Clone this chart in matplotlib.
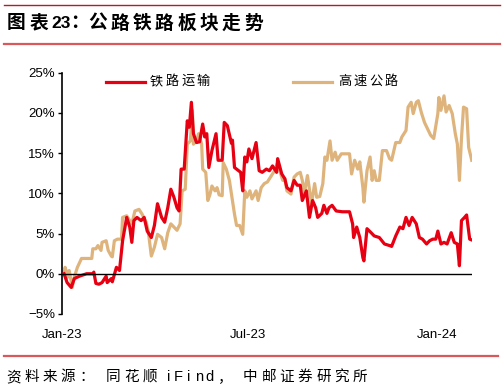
import matplotlib.pyplot as plt
import matplotlib.dates as mdates
from matplotlib.lines import Line2D
import pandas as pd

plt.rcParams["font.family"] = ["Liberation Sans", "Noto Sans CJK SC", "DejaVu Sans"]

START = pd.Timestamp("2023-01-01")

# 铁路运输: days since 2023-01-01, cumulative change (%)
rail_days = [2, 5, 9, 12, 17, 24, 30, 31, 33, 36, 39, 43, 44, 48, 49, 53, 56, 58, 59,
             63, 66, 68, 70, 73, 77, 80, 83, 87, 90, 93, 97, 100, 103, 106, 109, 112,
             114, 116, 119, 122, 124, 126, 128, 131, 134, 137, 139, 141, 143, 146, 150,
             152, 156, 158, 161, 165, 166, 168, 174, 176, 178, 180, 182, 185, 189, 192,
             195, 199, 202, 205, 209, 210, 214, 217, 219, 223, 226, 229, 232, 234, 238,
             241, 244, 247, 249, 253, 255, 258, 260, 263, 267, 273, 280, 283, 284, 287,
             290, 293, 294, 297, 301, 304, 309, 314, 319, 321, 325, 329, 332, 335, 338,
             341, 345, 348, 351, 355, 358, 361, 364, 366, 369, 372, 375, 379, 382, 385,
             387, 389, 392, 394, 397, 399]
rail_vals = [0.0, -1.1, -1.7, -0.6, -0.3, 0.0, 0.0, 0.2, -1.2, -1.3, -1.1, -0.3, -1.1,
             -0.6, -1.0, 0.8, 0.4, 2.9, 4.1, 7.0, 5.8, 3.9, 6.6, 7.0, 6.6, 7.0, 5.3, 4.5,
             6.0, 8.7, 7.0, 6.4, 8.2, 10.5, 9.5, 8.2, 7.8, 13.0, 13.0, 19.0, 18.2, 21.3,
             17.4, 16.3, 16.4, 18.6, 17.0, 17.4, 13.2, 15.3, 17.4, 14.1, 14.1, 18.8, 18.4,
             16.2, 16.6, 13.2, 12.6, 10.3, 14.5, 13.9, 15.5, 14.3, 16.3, 12.8, 12.6, 13.0,
             12.8, 13.4, 12.6, 14.3, 12.4, 11.8, 10.7, 10.3, 11.6, 11.0, 11.0, 9.1, 10.3,
             7.0, 9.1, 8.2, 7.0, 7.5, 8.5, 7.5, 8.2, 8.5, 7.8, 7.7, 7.7, 6.2, 4.5, 5.8,
             4.5, 2.0, 1.6, 5.6, 5.1, 4.7, 4.5, 3.7, 3.5, 3.4, 4.7, 5.8, 5.6, 7.0, 6.0,
             7.0, 6.2, 4.5, 4.3, 3.7, 4.1, 4.3, 4.3, 5.3, 3.7, 3.9, 3.7, 5.1, 3.9, 3.7,
             1.0, 6.6, 7.0, 7.3, 4.3, 4.2]

# 高速公路
road_days = [2, 3, 4, 5, 7, 10, 12, 15, 19, 24, 29, 30, 33, 35, 38, 39, 43, 45, 48, 49,
             51, 54, 58, 59, 63, 66, 68, 71, 75, 78, 82, 84, 87, 90, 93, 97, 100, 103,
             106, 109, 112, 115, 117, 120, 122, 125, 127, 128, 131, 133, 136, 137, 140,
             142, 144, 146, 149, 151, 153, 156, 157, 160, 163, 166, 168, 170, 173, 176,
             178, 180, 183, 185, 189, 191, 194, 197, 200, 204, 207, 210, 213, 215, 217,
             219, 223, 226, 229, 232, 234, 236, 239, 243, 246, 248, 251, 254, 256, 258,
             261, 263, 266, 268, 272, 280, 282, 285, 288, 290, 293, 294, 297, 300, 302,
             304, 306, 309, 312, 316, 319, 321, 325, 329, 331, 333, 335, 337, 340, 342,
             345, 347, 350, 353, 356, 359, 362, 366, 367, 369, 372, 374, 377, 380, 383,
             385, 387, 389, 391, 394, 396, 399]
road_vals = [0.0, 0.8, 0.4, -0.5, 0.4, -1.7, -0.4, 0.8, 1.9, 1.9, 1.9, 3.1, 3.1, 3.5,
             2.9, 3.9, 4.1, 2.9, 2.2, 2.1, 4.1, 4.3, 4.3, 7.0, 7.2, 6.6, 6.2, 7.8, 8.0,
             7.4, 6.4, 5.3, 2.2, 3.3, 4.9, 4.5, 3.1, 5.1, 6.2, 5.8, 5.4, 6.2, 10.3, 10.5,
             16.1, 16.5, 20.3, 16.1, 16.5, 17.4, 16.1, 13.0, 12.6, 9.1, 9.8, 10.9, 10.3,
             10.7, 9.8, 9.7, 13.8, 13.0, 11.6, 9.1, 7.4, 6.0, 6.0, 4.9, 10.3, 9.5, 10.3,
             9.3, 10.3, 9.1, 10.7, 11.2, 11.4, 12.2, 12.8, 13.8, 12.4, 11.6, 11.8, 10.3,
             9.9, 12.0, 12.4, 12.6, 11.6, 10.0, 12.2, 8.7, 11.2, 9.5, 9.6, 11.2, 14.5,
             14.1, 16.5, 14.1, 15.1, 14.1, 14.9, 14.9, 12.4, 14.1, 13.0, 13.9, 10.7, 8.9,
             12.8, 14.5, 11.6, 12.8, 11.6, 11.6, 15.3, 15.3, 14.3, 14.1, 16.3, 16.3, 17.0,
             17.4, 17.8, 20.7, 21.3, 19.9, 21.3, 21.5, 20.0, 18.8, 18.0, 17.2, 16.8, 19.9,
             21.9, 20.3, 22.1, 20.1, 20.9, 19.9, 17.4, 16.1, 11.6, 16.8, 20.7, 20.5, 15.7,
             14.1]

series_names = ["铁路运输", "高速公路"]
series_colors = ["#e60012", "#deb47c"]
y_ticks = [-5, 0, 5, 10, 15, 20, 25]
x_ticks = ["2023-01-01", "2023-07-01", "2024-01-01"]

W, H = 504, 392
CJK = ["Liberation Sans", "Noto Sans CJK SC"]

rail_dates = START + pd.to_timedelta(rail_days, unit="D")
road_dates = START + pd.to_timedelta(road_days, unit="D")

fig = plt.figure(figsize=(W / 100, H / 100), dpi=100)
ax = fig.add_axes([0.123, 0.199, 0.814, 0.616])

ax.plot(rail_dates, rail_vals, color=series_colors[0], lw=2.3, solid_joinstyle="round", zorder=3)
ax.plot(road_dates, road_vals, color=series_colors[1], lw=2.3, solid_joinstyle="round", zorder=2)
ax.axhline(0, color="black", lw=1.0, zorder=4)

ax.set_xlim(START, START + pd.Timedelta(days=399.5))
ax.set_ylim(-5, 25)
ax.set_yticks(y_ticks)
ax.set_yticklabels([f"{v}%".replace("-", "\u2212") for v in y_ticks])
ax.set_xticks(pd.to_datetime(x_ticks))
ax.xaxis.set_major_formatter(mdates.DateFormatter("%b-%y"))
ax.tick_params(axis="y", length=3, width=1, labelsize=9.5, pad=2, color="black")
ax.tick_params(axis="x", length=0, labelsize=9.5, pad=11)

for side in ["top", "right", "bottom"]:
    ax.spines[side].set_visible(False)
ax.spines["left"].set_linewidth(1.2)


def put(x_px, y_px, s, **kw):
    kw.setdefault("ha", "left")
    fig.text(x_px / W, 1 - y_px / H, s, va="center", **kw)


def spaced_text(x_px, y_px, text, pitch, center=False, **kw):
    """Draw text char by char, with the wide letter pitch of the original."""
    for i, ch in enumerate(text):
        x = x_px + i * pitch
        if center:
            put(x + pitch / 2, y_px, ch, ha="center", **kw)
        else:
            put(x, y_px, ch, **kw)


# legend, drawn by hand so the label pitch matches
legend_x = [(106, 150), (293, 338)]
for (x0, xt), name, color in zip(legend_x, series_names, series_colors):
    fig.add_artist(Line2D([x0 / W, (x0 + 39) / W], [1 - 82 / H] * 2, color=color, lw=2.3))
    spaced_text(xt, 82, name, 15.6, fontsize=9.5, family=CJK)

# header and footer rules
fig.add_artist(Line2D([0.008, 0.992], [1 - 5 / H] * 2, color="#b01f24", lw=1.0))
fig.add_artist(Line2D([0.008, 0.992], [1 - 43.5 / H] * 2, color="#d9595a", lw=1.6))
fig.add_artist(Line2D([0.008, 0.988], [1 - 356 / H] * 2, color="#d9595a", lw=1.6))

# title: 图表23：公路铁路板块走势
bold = dict(fontsize=13.5, fontweight="bold", family=CJK)
spaced_text(7, 24, "图表", 22.3, **bold)
put(51, 24, "23", fontsize=12.5, fontweight="bold", family=CJK)
put(70, 24, "：", **bold)
spaced_text(88, 24, "公路铁路板块走势", 22.3, **bold)

# source: 资料来源：同花顺 iFind，中邮证券研究所
src = dict(fontsize=10.5, family=CJK)
spaced_text(6, 377, "资料来源", 18.3, **src)
put(79, 377, "：", **src)
spaced_text(106, 377, "同花顺", 18.3, **src)
spaced_text(163, 377, "iFind", 10.4, center=True, **src)
put(218, 377, "，", **src)
spaced_text(243, 377, "中邮证券研究所", 18.3, **src)

fig.savefig("out.png", dpi=100)
